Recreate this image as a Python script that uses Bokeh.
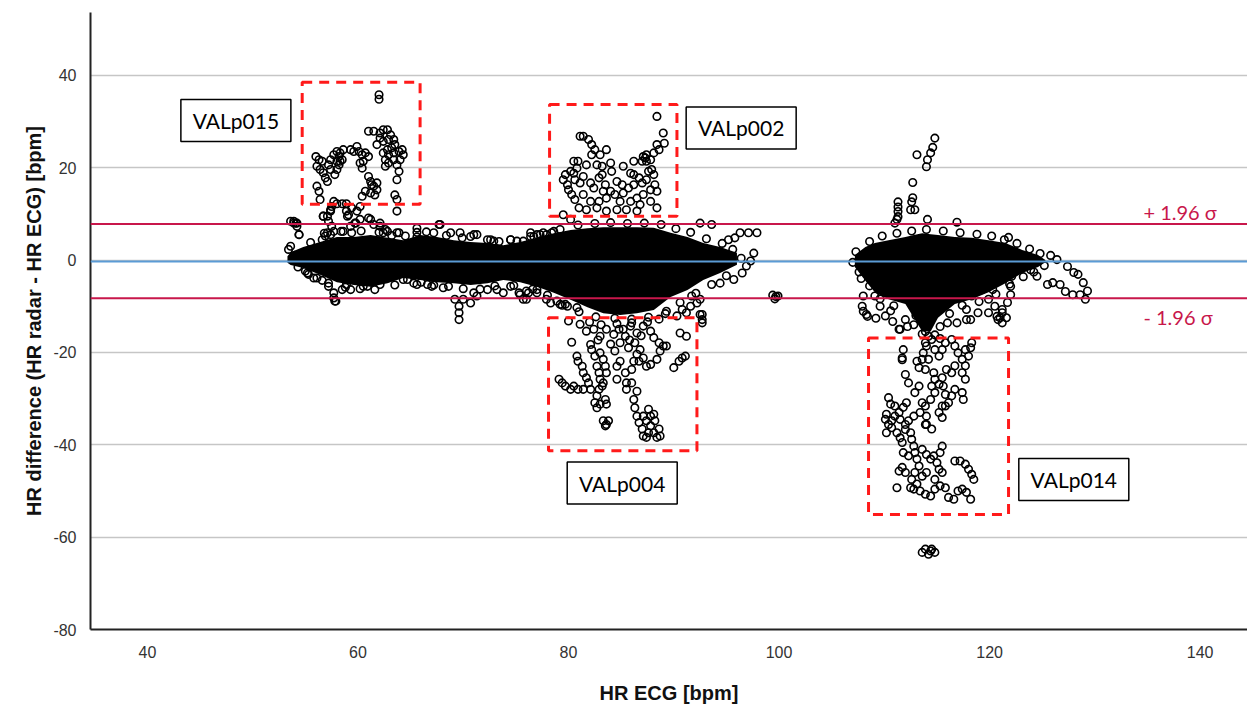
from bokeh.plotting import figure
from bokeh.models import Span, Range1d, FixedTicker, CustomJSTickFormatter
from bokeh.core.properties import value
from bokeh.embed import file_html
from bokeh.resources import INLINE

# ---------------- data ----------------
x_ticks = [40, 60, 80, 100, 120, 140]
y_ticks = [-80, -60, -40, -20, 0, 20, 40]

mean_diff = -0.3
upper_loa = 7.8
lower_loa = -8.3

# dense core of the two clusters (envelope of the solid black region)
core1_x = [53.3, 53.6, 54.8, 56.4, 58.0, 59.6, 61.2, 62.8, 64.3, 65.9, 67.5, 69.1, 70.7, 72.3, 73.8,
           75.4, 77.0, 78.6, 80.2, 81.8, 83.3, 84.9, 86.5, 88.1, 89.7, 91.3, 92.8, 94.4, 96.0]
core1_top = [0.8, 1.7, 2.8, 3.9, 5.0, 5.0, 5.4, 4.8, 4.3, 5.4, 5.0, 4.3, 3.9, 3.7, 3.2,
             3.9, 4.8, 5.8, 6.5, 6.9, 7.1, 7.1, 7.1, 7.0, 5.9, 5.0, 3.7, 2.8, 1.6]
core1_bottom = [-0.6, -1.1, -1.7, -3.2, -4.8, -5.4, -5.8, -5.0, -3.9, -4.3, -4.8, -5.0, -5.4, -5.0, -4.3,
                -4.8, -5.8, -7.1, -8.6, -10.2, -11.5, -11.9, -11.5, -10.8, -8.0, -6.5, -4.3, -2.8, -1.0]

core3_x = [107.2, 108.2, 109.1, 110.4, 112.0, 112.8, 113.6, 114.4, 115.1, 116.7, 118.3, 119.9, 121.5,
           123.1, 124.6, 125.3]
core3_top = [1.1, 2.8, 3.7, 4.3, 5.0, 5.4, 5.8, 5.6, 5.4, 5.0, 4.8, 4.3, 3.7, 2.2, 1.1, 0.0]
core3_bottom = [-1.5, -4.5, -7.0, -8.5, -9.5, -12.5, -15.5, -15.5, -12.5, -9.5, -8.5, -7.0, -5.0,
                -2.8, -1.5, -0.5]

# scattered points, (HR ECG, HR difference)
pts_p015 = [
    (62.0, 35.8), (62.0, 34.8),
    (61.0, 27.9), (61.5, 27.9), (62.1, 27.5), (62.4, 28.2), (62.8, 28.2), (63.1, 27.1), (62.1, 26.4),
    (61.8, 25.0), (62.4, 25.7), (62.9, 26.1), (63.4, 26.1), (63.5, 25.0), (63.2, 24.3), (62.8, 23.9),
    (62.4, 23.2), (62.9, 22.8), (63.4, 23.2), (63.9, 23.5), (64.2, 23.9), (64.3, 22.8), (64.0, 21.7),
    (63.7, 20.6), (63.4, 21.7), (62.9, 21.0), (62.6, 21.7), (62.6, 20.3), (63.9, 19.2), (63.7, 17.4),
    (63.5, 14.1), (63.7, 13.1), (63.7, 10.6),
    (56.0, 22.4), (56.3, 21.7), (56.6, 21.4), (56.1, 20.3), (56.4, 19.6), (56.7, 18.9), (56.9, 17.8),
    (57.1, 17.0), (56.1, 16.0), (56.3, 14.9), (56.4, 13.1), (57.4, 21.7), (57.7, 22.8), (58.0, 23.5),
    (58.3, 23.2), (58.6, 23.9), (58.5, 21.7), (58.2, 20.6), (58.0, 19.6), (57.8, 18.5), (57.4, 19.6),
    (57.2, 20.6), (59.3, 23.9), (59.6, 23.5), (59.9, 24.6), (60.1, 23.5), (60.4, 22.8), (60.7, 23.2),
    (61.0, 22.4), (60.5, 21.4), (60.4, 19.9), (60.2, 21.0), (58.2, 22.4), (58.3, 21.4), (58.0, 21.4),
    (61.0, 18.1), (61.2, 17.0), (61.3, 16.3), (61.5, 16.0), (61.8, 16.7), (61.8, 15.2), (61.6, 14.1),
    (61.2, 14.5), (60.7, 14.9), (60.4, 13.8), (60.2, 11.6), (59.9, 10.6), (59.4, 11.3), (59.1, 9.8),
    (58.9, 10.6),
    (57.7, 12.7), (57.5, 11.6), (57.4, 10.6), (57.1, 9.5), (56.7, 9.5), (57.2, 8.4), (57.5, 7.3),
    (57.7, 6.2), (57.4, 5.5), (57.1, 5.9), (56.9, 5.2), (56.6, 4.4), (58.0, 12.2), (58.5, 12.2),
    (58.9, 12.2),
    (53.6, 8.4), (53.9, 8.0), (54.2, 7.3), (54.1, 8.0), (54.4, 5.5), (53.4, 2.3),
    (60.2, 8.8), (61.0, 9.1), (61.5, 7.7), (62.1, 7.3), (62.4, 5.9), (62.8, 6.2), (63.9, 5.9),
    (59.3, 7.3), (59.8, 8.0), (58.6, 6.2), (59.4, 5.9),
    (57.7, -8.2), (57.8, -8.9), (55.8, -3.9), (55.3, -3.1), (57.2, -5.7), (58.9, -5.3), (60.5, -5.7),
]

pts_band1 = [
    (69.6, -10.0), (69.6, -11.4), (69.6, -12.9), (69.2, -8.5), (70.0, -8.5), (70.7, -9.3), (71.3, -7.8),
    (67.0, -5.7), (65.6, -5.3), (64.7, -4.2), (73.2, -6.4), (73.8, -7.1), (75.3, -7.1), (76.0, -6.7),
    (77.0, -7.1), (77.9, -8.5), (78.9, -8.9), (79.7, -9.6),
    (67.8, 7.7), (68.8, 5.9), (67.2, 5.9), (65.6, 6.9), (65.6, 6.0), (65.6, 5.0), (65.6, 4.0),
    (70.7, 5.1), (71.3, 5.5), (72.6, 4.4), (74.5, 4.4), (75.1, 4.1), (75.7, 4.1), (76.7, 5.1),
    (77.3, 5.5), (77.9, 5.5), (79.2, 6.6), (63.7, 5.9),
    (55.2, -2.8), (56.1, -3.9), (57.2, -5.0), (57.7, -7.1), (57.9, -8.9), (58.5, -6.4), (59.3, -6.4),
    (60.9, -5.7), (62.1, -5.3), (64.3, -4.2), (65.3, -5.0), (66.6, -5.3), (68.1, -6.0), (71.0, -7.1),
    (72.3, -6.4), (74.5, -5.7), (75.4, -7.5), (76.0, -8.5), (77.0, -6.4),
    (53.6, 3.0), (54.2, 8.0), (53.9, 8.4), (54.4, 5.5), (56.7, 9.5), (57.4, 10.9), (59.0, 9.5),
    (59.7, 8.0), (61.2, 8.8), (62.1, 8.0), (62.6, 6.6), (67.7, 7.7), (69.7, 5.9), (71.0, 5.5),
    (72.3, 4.4), (72.9, 4.1), (74.5, 4.4), (76.4, 5.1), (77.0, 5.5), (77.6, 5.9), (78.6, 6.2),
    (80.2, 8.8),
    (92.5, 8.0), (93.6, 7.7), (96.3, 5.9), (97.1, 5.9), (97.9, 5.9), (95.2, 4.4), (95.8, 4.8),
    (97.6, 1.5), (97.3, -0.2), (96.9, -1.3), (96.5, -2.8), (95.7, -4.2), (94.4, -5.0), (92.5, -8.5),
    (91.7, -7.8), (90.8, -10.7), (92.7, -11.8), (92.7, -12.9), (76.4, 5.9), (78.4, 5.9),
    (76.2, -7.1), (75.7, -8.5),
    (99.4, -7.6), (99.7, -7.9), (99.6, -8.4), (99.9, -7.8),
    (54.0, 1.0), (54.3, -1.5), (55.5, 3.8), (56.8, 5.8), (58.4, 6.2), (60.3, 6.3), (62.0, 6.0),
    (63.2, 5.3), (64.5, 5.2), (66.5, 6.1), (68.4, 5.3), (69.9, 4.8), (73.4, 4.0), (80.9, 7.6),
    (82.5, 7.9), (84.0, 8.1), (85.6, 7.9), (87.2, 8.0), (88.8, 7.7), (90.2, 6.8), (91.6, 6.0),
    (93.1, 4.6), (94.6, 3.6), (95.6, 2.3), (96.4, 0.4), (95.0, -3.4), (93.6, -5.3), (92.1, -7.2),
    (90.6, -9.2), (89.2, -11.6), (87.6, -12.4), (86.0, -12.8), (84.4, -12.6), (82.6, -12.3),
    (81.0, -11.2), (79.4, -9.8), (78.0, -7.6), (76.6, -6.3), (74.8, -5.5), (73.0, -5.6), (71.6, -6.3),
    (70.0, -6.2), (68.6, -5.7), (67.2, -5.4), (66.0, -4.8), (63.5, -5.4), (61.6, -6.4), (60.2, -6.2),
    (58.8, -5.9), (56.6, -4.4), (55.0, -2.4),
]

pts_p002 = [
    (88.4, 31.1), (89.0, 27.5), (89.1, 25.3), (88.4, 25.0), (88.6, 23.9), (88.1, 23.2), (87.4, 22.8),
    (87.1, 22.4), (87.0, 21.4), (87.4, 21.4), (87.8, 21.7), (86.2, 21.4), (85.2, 20.3), (81.1, 26.8),
    (81.4, 26.8), (81.9, 26.1), (82.2, 25.0), (82.5, 23.9), (82.2, 22.8), (83.0, 22.8), (83.6, 23.9),
    (83.2, 20.3), (82.7, 20.6), (81.7, 20.6), (80.5, 21.4), (80.9, 21.4), (80.8, 19.9), (80.5, 18.8),
    (79.7, 18.5), (79.5, 17.4), (79.9, 16.3), (80.0, 15.2), (80.3, 14.2), (80.6, 13.1), (81.1, 16.7),
    (81.4, 18.1), (82.1, 16.7), (82.4, 15.6), (82.9, 17.8), (83.2, 18.5), (83.5, 16.3), (84.0, 21.0),
    (84.1, 19.2), (84.6, 17.0), (85.1, 16.3), (85.2, 14.5), (84.9, 12.7), (84.4, 14.2), (83.6, 13.4),
    (82.9, 12.7), (82.1, 12.7), (81.4, 14.2), (81.0, 11.3), (81.7, 10.9), (82.7, 11.3), (85.9, 18.8),
    (86.2, 18.5), (86.7, 17.8), (87.0, 16.7), (87.4, 17.4), (88.1, 18.5), (88.2, 16.3), (88.4, 14.9),
    (87.8, 15.2), (87.1, 14.2), (86.5, 13.4), (85.9, 12.7), (86.8, 12.0), (87.8, 12.7), (88.4, 11.3),
    (86.5, 10.6), (85.5, 10.9), (84.6, 10.9), (83.6, 10.6), (79.5, 9.8), (87.3, 22.1), (80.2, 19.2),
    (80.6, 17.4), (83.3, 14.9), (84.0, 14.9), (85.7, 15.6), (86.2, 16.3), (87.6, 19.2), (87.9, 19.6),
]

pts_p004 = [
    (80.0, -13.2), (80.3, -17.8), (80.8, -20.8), (80.9, -21.9), (81.3, -23.0), (81.4, -24.4),
    (81.7, -25.5), (81.9, -26.6), (82.1, -28.0), (79.1, -25.8), (79.4, -26.6), (79.7, -27.3),
    (80.2, -28.0), (80.5, -27.3), (80.9, -28.0), (81.4, -28.0), (82.1, -18.3), (82.2, -19.4),
    (82.5, -20.8), (82.7, -23.0), (82.9, -24.4), (83.0, -25.8), (83.2, -27.3), (82.9, -28.0),
    (82.7, -29.4), (82.5, -30.9), (82.7, -32.0), (83.0, -31.2), (83.5, -30.2), (83.6, -31.2),
    (83.3, -26.6), (83.6, -24.4), (83.5, -23.0), (83.3, -21.5), (83.0, -20.1), (83.3, -34.8),
    (83.6, -35.6), (83.5, -35.9), (83.8, -34.8), (84.6, -23.0), (84.4, -19.7), (84.9, -17.9),
    (85.4, -16.5), (85.7, -19.0), (86.3, -17.9), (86.8, -19.4), (86.5, -20.4), (86.2, -21.9),
    (86.0, -23.7), (86.7, -21.9), (87.1, -21.2), (87.4, -23.0), (87.8, -22.6), (85.5, -26.6),
    (86.0, -26.6), (86.5, -28.4), (86.2, -30.2), (86.3, -32.0), (86.5, -33.8), (86.7, -35.2),
    (87.0, -36.6), (87.1, -38.1), (87.4, -38.4), (87.6, -37.4), (87.8, -35.9), (87.8, -33.8),
    (87.6, -32.3), (88.1, -33.4), (88.2, -34.8), (88.6, -36.6), (88.7, -38.1), (88.4, -38.4),
    (88.1, -37.4), (87.4, -34.8), (87.1, -33.8), (88.4, -21.5), (88.7, -19.7), (89.0, -18.6),
    (88.6, -17.9), (88.1, -16.8), (87.8, -15.4), (87.1, -14.3), (86.5, -15.8), (85.9, -14.3),
    (85.2, -15.0), (84.3, -16.1), (83.6, -15.0), (83.0, -16.5), (82.4, -15.0), (81.7, -15.4),
    (81.1, -13.9), (90.0, -23.3), (90.5, -21.9), (90.8, -21.2), (91.1, -20.8), (92.5, -11.8),
    (92.7, -13.6), (89.3, -18.6), (90.6, -15.8), (91.2, -16.5), (84.9, -21.9), (85.4, -24.4),
    (85.5, -28.0), (84.6, -25.8),
    (78.3, -9.3), (79.2, -9.6), (79.9, -10.0), (80.8, -10.3), (89.3, -11.1), (90.3, -12.1),
    (91.2, -11.4), (91.6, -10.0), (92.2, -9.3),
    (82.0, -13.4), (83.1, -14.0), (84.6, -13.8), (86.0, -13.6), (87.5, -13.4), (88.6, -12.8),
    (84.8, -15.0), (86.9, -16.4), (85.8, -17.3), (84.0, -18.2), (82.8, -17.3),
]

pts_band3 = [
    (114.8, 26.4), (114.6, 24.4), (114.4, 23.2), (114.1, 21.7), (114.0, 20.2), (113.1, 22.8),
    (112.7, 16.8), (112.7, 13.5), (112.6, 12.6), (112.5, 10.9), (112.9, 10.9), (111.3, 12.6),
    (111.3, 11.5), (111.3, 10.5), (111.3, 9.4), (111.2, 8.8), (111.0, 8.0),
    (114.1, 8.8), (116.9, 8.2), (121.8, 4.9), (125.8, 1.0), (126.4, 0.1), (127.4, -1.4), (128.0, -2.7),
    (128.4, -3.1), (128.9, -4.9), (129.3, -6.7), (129.1, -8.5), (128.6, -7.5), (127.9, -7.5),
    (127.2, -6.8), (126.7, -5.3), (126.0, -4.9), (125.5, -5.3), (124.5, -3.5), (123.9, -2.1),
    (123.2, -1.4), (122.6, -2.1), (122.1, -3.5), (121.0, -4.2), (120.3, -6.4), (119.8, -3.5),
    (118.4, -4.2), (122.0, -5.7), (122.0, -7.5), (121.7, -9.2), (121.2, -10.7), (121.0, -12.5),
    (121.2, -13.6), (120.7, -12.2), (117.8, -10.7), (117.8, -12.9), (116.9, -13.6), (116.0, -13.6),
    (115.3, -14.4), (111.8, -19.4), (111.7, -21.6), (112.0, -24.8), (108.0, -11.1), (108.4, -12.2),
    (108.0, -7.8), (110.8, -13.3), (111.5, -15.0), (112.2, -14.4),
    (108.3, -11.8), (107.9, -10.0), (109.1, -7.8), (109.6, -10.0), (110.1, -12.1), (111.4, -15.0),
    (112.0, -12.9), (112.8, -14.0), (118.3, -7.8), (119.3, -6.4), (119.9, -8.5), (120.5, -10.0),
    (121.2, -11.4), (121.6, -12.5), (120.8, -12.9), (119.9, -11.4), (118.9, -11.4), (118.2, -12.9),
    (113.6, -16.0), (114.2, -16.5), (114.8, -16.2), (115.3, -17.0), (113.9, -15.5),
    (107.3, 1.8), (107.0, -0.5), (107.6, -2.6), (108.6, 4.0), (109.8, 5.2), (111.2, 5.8), (112.6, 6.3),
    (114.0, 6.6), (115.6, 6.3), (117.2, 5.9), (118.8, 5.6), (120.2, 5.2), (121.4, 4.4), (122.6, 3.6),
    (123.8, 2.4), (124.8, 1.4), (125.2, -1.2), (124.2, -2.6), (123.2, -3.6), (121.9, -5.2),
    (120.6, -7.4), (119.0, -9.0), (117.4, -9.8), (116.2, -11.6), (113.0, -12.0), (110.9, -9.9),
    (109.6, -8.4), (108.6, -5.6), (107.8, -4.0), (110.6, -11.0), (109.2, -12.6),
]

pts_p014 = [
    (111.7, -21.2), (112.3, -26.6), (113.1, -21.9), (113.3, -23.3), (113.6, -21.5), (113.7, -20.1),
    (113.9, -17.9), (114.0, -18.6), (114.5, -17.2), (114.8, -19.4), (115.2, -20.8), (115.5, -19.4),
    (115.8, -17.9), (116.4, -17.2), (116.7, -18.6), (117.0, -20.1), (117.4, -21.5), (117.7, -22.9),
    (118.0, -20.8), (118.2, -19.0), (118.3, -17.9), (117.7, -19.4), (116.7, -22.9), (116.4, -24.4),
    (115.9, -23.7), (115.5, -25.5), (115.2, -26.9), (114.8, -28.7), (114.4, -30.2), (113.9, -31.6),
    (113.6, -30.9), (114.0, -33.8), (113.9, -35.6), (114.5, -27.3), (114.8, -25.8), (115.6, -27.3),
    (115.8, -29.1), (115.5, -31.6), (115.2, -33.0), (115.5, -34.1), (115.8, -31.6), (116.1, -30.9),
    (116.4, -29.4), (116.7, -28.0), (117.4, -28.7), (117.5, -30.2), (117.7, -25.8), (117.4, -24.4),
    (114.7, -24.4), (114.2, -21.5), (113.9, -23.7), (113.3, -27.3), (112.9, -28.7),
    (110.4, -29.8), (110.6, -31.2), (111.0, -31.6), (111.4, -33.0), (111.8, -31.9), (112.1, -30.9),
    (110.2, -33.4), (110.1, -34.5), (110.4, -35.6), (110.7, -34.8), (111.0, -33.8), (111.5, -34.5),
    (112.0, -35.6), (112.3, -34.8), (112.8, -33.8), (113.4, -33.0), (110.2, -37.4), (110.7, -36.3),
    (111.2, -37.4), (111.5, -38.5), (111.7, -39.5), (112.0, -36.7), (112.5, -37.4), (112.6, -38.8),
    (112.8, -40.3), (112.9, -41.7), (113.1, -43.1), (113.3, -44.6), (112.9, -46.0), (112.6, -47.5),
    (112.5, -49.3), (112.8, -49.6), (113.1, -48.5), (113.4, -50.0), (113.9, -50.7), (114.4, -51.1),
    (114.8, -49.6), (115.3, -48.9), (115.8, -49.3), (116.1, -51.4), (116.6, -51.8), (117.0, -50.0),
    (117.4, -49.6), (117.8, -50.3), (118.2, -51.8), (116.7, -43.5), (117.2, -43.5), (117.7, -44.2),
    (118.0, -45.3), (118.3, -46.4), (118.5, -47.5), (113.6, -41.0), (114.0, -42.1), (114.4, -43.1),
    (114.7, -42.4), (115.0, -43.9), (115.2, -45.3), (115.5, -40.3), (115.3, -41.7), (115.5, -46.0),
    (114.8, -47.5), (114.0, -46.0), (113.6, -46.8), (111.2, -49.3), (111.7, -44.9), (111.4, -45.7),
    (111.8, -41.7), (112.3, -42.4), (112.0, -46.0), (114.0, -35.6), (114.5, -36.6),
    (113.6, -63.3), (113.9, -62.6), (114.2, -63.7), (114.5, -62.6), (114.8, -63.3), (114.4, -63.0),
]

# highlighted subject regions: name, label centre, dashed box (left, right, top, bottom)
subj_names = ["VALp015", "VALp002", "VALp004", "VALp014"]
subj_label_x = [48.4, 96.4, 85.1, 128.0]
subj_label_y = [30.2, 28.6, -48.3, -47.5]
box_left = [54.7, 78.2, 78.1, 108.5]
box_right = [65.9, 90.3, 92.2, 121.8]
box_top = [38.5, 33.7, -12.5, -16.9]
box_bottom = [12.1, 9.5, -41.3, -55.1]

loa_labels = ["+ 1.96 \u03c3", "- 1.96 \u03c3"]
loa_label_x = [138.1, 137.9]
loa_label_y = [10.3, -12.4]

# ---------------- figure ----------------
p = figure(width=1247, height=706, output_backend="svg", toolbar_location=None,
           x_range=Range1d(34.59, 144.5), y_range=Range1d(-80, 53.6),
           min_border_left=90, min_border_right=0, min_border_top=12, min_border_bottom=76)
p.outline_line_color = None
p.background_fill_color = "white"
p.border_fill_color = "white"

p.xaxis.ticker = FixedTicker(ticks=x_ticks)
p.yaxis.ticker = FixedTicker(ticks=y_ticks)
p.xgrid.grid_line_color = None
p.ygrid.grid_line_color = "#c6c6c6"
p.ygrid.grid_line_width = 1.6

for ax in (p.xaxis, p.yaxis):
    ax.formatter = CustomJSTickFormatter(code="return tick.toString();")
    ax.major_tick_line_color = None
    ax.minor_tick_line_color = None
    ax.axis_line_color = "#222222"
    ax.axis_line_width = 2
    ax.major_label_text_font = "Liberation Sans"
    ax.major_label_text_font_size = "16px"
    ax.major_label_text_color = "#333333"
    ax.axis_label_text_font = "Liberation Sans"
    ax.axis_label_text_font_size = "20px"
    ax.axis_label_text_font_style = "bold"
    ax.axis_label_text_color = "#111111"

p.xaxis.axis_label = "HR ECG [bpm]"
p.yaxis.axis_label = "HR difference (HR radar - HR ECG) [bpm]"
p.xaxis.major_label_standoff = 10
p.xaxis.axis_label_standoff = 21
p.yaxis.major_label_standoff = 8
p.yaxis.axis_label_standoff = 5

# dense cores
p.varea(x=core1_x, y1=core1_bottom, y2=core1_top, fill_color="black")
p.varea(x=core3_x, y1=core3_bottom, y2=core3_top, fill_color="black")

# scattered measurements
all_pts = pts_p015 + pts_band1 + pts_p002 + pts_p004 + pts_band3 + pts_p014
px = [a for a, b in all_pts]
py = [b for a, b in all_pts]
p.scatter(px, py, marker="circle", size=7.5, fill_color=None, line_color="black", line_width=1.6)

# mean and limits of agreement
p.add_layout(Span(location=mean_diff, dimension="width", line_color="#5B9BD5", line_width=2))
p.add_layout(Span(location=upper_loa, dimension="width", line_color="#C8174B", line_width=2))
p.add_layout(Span(location=lower_loa, dimension="width", line_color="#C8174B", line_width=2))

p.text(x=loa_label_x, y=loa_label_y, text=loa_labels, text_align="center", text_baseline="middle",
       text_font=value("Lato"), text_font_size="20px", text_color="#C8174B")

# dashed subject boxes
p.quad(left=box_left, right=box_right, top=box_top, bottom=box_bottom,
       fill_color=None, line_color="#FF1A1A", line_width=3, line_dash="10 7")

# subject label boxes
p.rect(x=subj_label_x, y=subj_label_y, width=110, height=42, width_units="screen",
       height_units="screen", fill_color="white", line_color="black", line_width=1.5)
p.text(x=subj_label_x, y=subj_label_y, text=subj_names, text_align="center", text_baseline="middle",
       text_font=value("Lato"), text_font_size="21px", text_color="black")

open("out.html", "w").write(file_html(p, INLINE))
